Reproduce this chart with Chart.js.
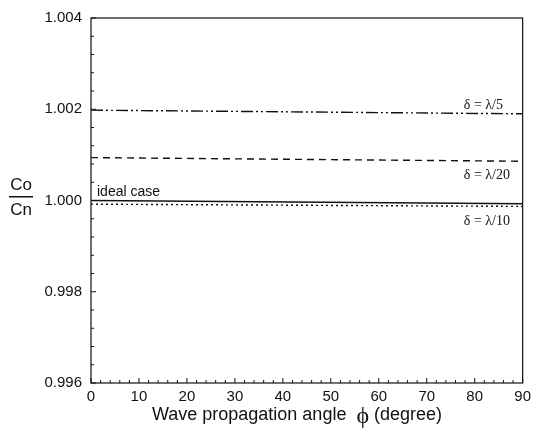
<!DOCTYPE html>
<html>
<head>
<meta charset="utf-8">
<script src="https://cdn.jsdelivr.net/npm/chart.js@4/dist/chart.umd.min.js"></script>
<style>
  html, body { margin: 0; padding: 0; background: #fff; }
  #wrap { width: 536px; height: 431px; }
</style>
</head>
<body>
<div id="wrap"><canvas id="myChart" width="536" height="431"></canvas></div>
<script>
// propagation angle (degree) at the ends of each curve
const angles = [0, 90];
// Co/Cn for each grid spacing
const lambda5 = [1.00198, 1.00190];
const lambda20 = [1.00094, 1.00086];
const idealCase = [1.00000, 0.99993];
const lambda10 = [0.99992, 0.99987];

const xTicks = [0, 10, 20, 30, 40, 50, 60, 70, 80, 90];
const yTicks = [0.996, 0.998, 1.000, 1.002, 1.004];

const sans = "'Liberation Sans', Arial, sans-serif";
const serif = "'Liberation Serif', 'Times New Roman', serif";

function toPoints(ys) {
  return angles.map((a, i) => ({ x: a, y: ys[i] }));
}

function series(label, ys, dash) {
  return {
    label: label,
    data: toPoints(ys),
    borderColor: "#111",
    borderWidth: 1.4,
    borderDash: dash,
    pointRadius: 0,
    fill: false,
  };
}

// frame, inward tick marks, curve labels and axis titles
const decorations = {
  id: "decorations",
  afterDraw(chart) {
    const ctx = chart.ctx;
    const a = chart.chartArea;
    const xs = chart.scales.x;
    const ys = chart.scales.y;
    ctx.save();
    ctx.strokeStyle = "#111";
    ctx.lineWidth = 1.2;
    ctx.strokeRect(a.left, a.top, a.right - a.left, a.bottom - a.top);

    ctx.lineWidth = 1;
    ctx.beginPath();
    for (let v = 0; v <= 90; v += 2) {
      const px = xs.getPixelForValue(v);
      const len = v % 10 === 0 ? 5 : 3;
      ctx.moveTo(px, a.bottom);
      ctx.lineTo(px, a.bottom - len);
    }
    for (let k = 0; k <= 20; k++) {
      const v = 0.996 + k * 0.0004;
      const py = ys.getPixelForValue(v);
      const len = k % 5 === 0 ? 5 : 3;
      ctx.moveTo(a.left, py);
      ctx.lineTo(a.left + len, py);
    }
    ctx.stroke();

    // curve labels
    ctx.fillStyle = "#111";
    ctx.textBaseline = "alphabetic";
    ctx.font = "14px " + serif;
    ctx.textAlign = "right";
    ctx.fillText("\u03b4 = \u03bb/5", 503, ys.getPixelForValue(lambda5[1]) - 5);
    ctx.fillText("\u03b4 = \u03bb/20", 510, ys.getPixelForValue(lambda20[1]) + 18);
    ctx.fillText("\u03b4 = \u03bb/10", 510, ys.getPixelForValue(lambda10[1]) + 19);
    ctx.font = "14px " + sans;
    ctx.textAlign = "left";
    ctx.fillText("ideal case", 97, ys.getPixelForValue(idealCase[0]) - 5);

    // y title: Co over Cn
    ctx.font = "17px " + sans;
    ctx.textAlign = "center";
    ctx.fillText("Co", 21, 190);
    ctx.fillText("Cn", 21, 215);
    ctx.fillRect(9, 196, 24, 1.5);

    // x title with a larger phi
    const left = "Wave propagation angle  ";
    const phi = "\u03d5";
    const right = " (degree)";
    ctx.textAlign = "left";
    ctx.font = "18px " + sans;
    const wl = ctx.measureText(left).width;
    const wr = ctx.measureText(right).width;
    ctx.font = "24px " + serif;
    const wp = ctx.measureText(phi).width;
    let x0 = 297 - (wl + wp + wr) / 2;
    ctx.font = "18px " + sans;
    ctx.fillText(left, x0, 420);
    ctx.font = "24px " + serif;
    ctx.fillText(phi, x0 + wl, 423);
    ctx.font = "18px " + sans;
    ctx.fillText(right, x0 + wl + wp, 420);
    ctx.restore();
  },
};

const chart = new Chart(document.getElementById("myChart").getContext("2d"), {
  type: "line",
  data: {
    datasets: [
      series("\u03b4 = \u03bb/5", lambda5, [12, 3, 2, 3, 2, 3]),
      series("\u03b4 = \u03bb/20", lambda20, [7, 5]),
      series("ideal case", idealCase, []),
      series("\u03b4 = \u03bb/10", lambda10, [2, 3]),
    ],
  },
  options: {
    responsive: false,
    animation: false,
    layout: { padding: { top: 15, right: 9, left: 0, bottom: 0 } },
    plugins: { legend: { display: false }, tooltip: { enabled: false } },
    scales: {
      x: {
        type: "linear",
        min: 0,
        max: 90,
        afterBuildTicks: (s) => { s.ticks = xTicks.map((v) => ({ value: v })); },
        afterFit: (s) => { s.height = 48; },
        grid: { display: false, drawTicks: false },
        border: { display: false },
        ticks: { color: "#111", padding: 5, maxRotation: 0, font: { family: sans, size: 15 } },
      },
      y: {
        min: 0.996,
        max: 1.004,
        afterBuildTicks: (s) => { s.ticks = yTicks.map((v) => ({ value: v })); },
        afterFit: (s) => { s.width = 91; },
        grid: { display: false, drawTicks: false },
        border: { display: false },
        ticks: {
          color: "#111",
          padding: 9,
          font: { family: sans, size: 15 },
          callback: (v) => Number(v).toFixed(3),
        },
      },
    },
  },
  plugins: [decorations],
});
</script>
</body>
</html>
